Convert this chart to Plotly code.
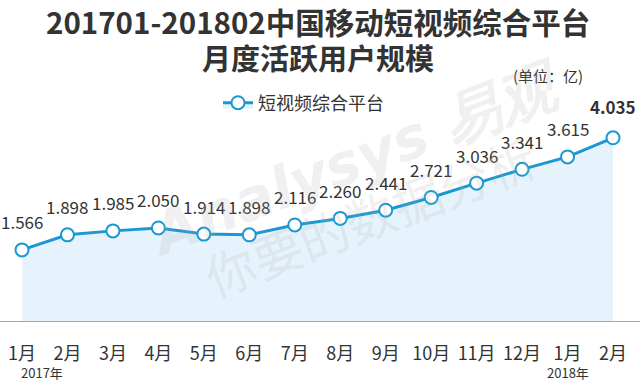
import plotly.graph_objects as go

months = ["1月", "2月", "3月", "4月", "5月", "6月", "7月", "8月", "9月", "10月", "11月", "12月", "1月", "2月"]
mau = [1.566, 1.898, 1.985, 2.050, 1.914, 1.898, 2.116, 2.260, 2.441, 2.721, 3.036, 3.341, 3.615, 4.035]
labels = ["1.566", "1.898", "1.985", "2.050", "1.914", "1.898", "2.116", "2.260", "2.441", "2.721", "3.036", "3.341", "3.615", "4.035"]
series_name = "短视频综合平台"
title_lines = ["201701-201802中国移动短视频综合平台", "月度活跃用户规模"]
unit_text = "(单位：亿)"
years = [("2017年", 0), ("2018年", 12)]

FONT = "Noto Sans CJK SC"
BLUE = "#1b98d3"
TXT = "#333333"

W, H = 640, 381
L, R, T, B = 0, 0, 100, 60
pw, ph = W - L - R, H - T - B

def px(xp):
    return (xp - L) / pw

def py(yp):
    return (H - B - yp) / ph

x = list(range(len(months)))

fig = go.Figure()
fig.add_trace(go.Scatter(
    x=x, y=mau, name=series_name, mode="lines+markers",
    line=dict(color=BLUE, width=3),
    marker=dict(size=13, color="white", line=dict(color=BLUE, width=2)),
    fill="tozeroy", fillcolor="#e6f3fc",
    cliponaxis=False,
))

for i, (v, t) in enumerate(zip(mau, labels)):
    last = i == len(mau) - 1
    fig.add_annotation(
        x=i, y=v, text=f"<b>{t}</b>" if last else t, showarrow=False,
        yshift=31 if last else 28, xref="x", yref="y",
        font=dict(family=FONT, size=17, color=TXT),
    )
for name, idx in years:
    fig.add_annotation(
        x=idx, y=0, xref="x", yref="y", text=name, showarrow=False,
        xshift=20 if idx == 0 else 0, yshift=-51,
        font=dict(family=FONT, size=13, color=TXT),
    )

extra = [
    dict(x=px(318), y=py(21), text="<b>" + title_lines[0] + "</b>",
         font=dict(family=FONT, size=29.5, color=TXT)),
    dict(x=px(318), y=py(57), text="<b>" + title_lines[1] + "</b>",
         font=dict(family=FONT, size=29, color=TXT)),
    dict(x=px(548), y=py(76), text=unit_text,
         font=dict(family=FONT, size=15, color=TXT)),
    dict(x=px(355), y=py(160), text="<b><i>Analysys 易观</i></b>", textangle=-21,
         font=dict(family="DejaVu Sans", size=58, color="rgba(170,170,170,0.18)")),
    dict(x=px(370), y=py(215), text="你要的数据分析", textangle=-21,
         font=dict(family=FONT, size=50, color="rgba(170,170,170,0.18)")),
]
for a in extra:
    a.update(xref="paper", yref="paper", showarrow=False, xanchor="center", yanchor="middle")
    fig.add_annotation(**a)

fig.update_layout(
    width=W, height=H,
    margin=dict(l=L, r=R, t=T, b=B, autoexpand=False),
    paper_bgcolor="white", plot_bgcolor="white",
    showlegend=True,
    legend=dict(x=px(218), y=py(103), xanchor="left", yanchor="middle",
                orientation="h", font=dict(family=FONT, size=18, color=TXT),
                bgcolor="rgba(0,0,0,0)", itemwidth=30),
    xaxis=dict(
        range=[-22 / 45.46, 13 + 27 / 45.46],
        tickmode="array", tickvals=x, ticktext=months,
        showgrid=False, zeroline=False, automargin=False,
        showline=True, linecolor="#a8a8a8", linewidth=1,
        ticks="", ticklabelstandoff=16,
        tickfont=dict(family=FONT, size=18, color=TXT),
        fixedrange=True,
    ),
    yaxis=dict(
        range=[0, 221 / 45.4], visible=False, showgrid=False, zeroline=False,
        fixedrange=True, automargin=False,
    ),
)

fig.write_html("out.html", config={"displayModeBar": False},
               post_script="document.body.style.margin='0px';")
